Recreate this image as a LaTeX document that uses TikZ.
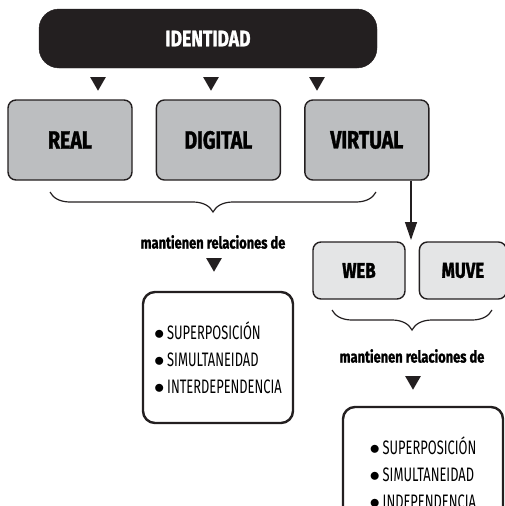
\documentclass[tikz,border=0pt]{standalone}
\usepackage{fontspec}
\setmainfont{Fira Sans}
\newfontfamily\headfont[FakeStretch=0.78,BoldFeatures={FakeBold=1.3}]{Fira Sans}
\newfontfamily\listfont[FakeStretch=0.66]{Fira Sans}
\usetikzlibrary{arrows.meta,positioning,shapes.geometric,decorations.pathreplacing}
\definecolor{ink}{RGB}{35,31,32}
\definecolor{boxgrey}{RGB}{188,190,192}
\definecolor{boxlight}{RGB}{228,229,230}
\newcommand{\itm}{\makebox[13pt][l]{$\bullet$}}

\begin{document}
\begin{tikzpicture}[x=1pt,y=-1pt, node distance=23pt and 23pt,
top/.style={fill=ink,draw=ink,rounded corners=20pt,minimum width=338pt,minimum height=59pt,text=white,font=\headfont\bfseries\fontsize{22.5}{24}\selectfont},
kind/.style={draw=ink,line width=1.4pt,fill=boxgrey,rounded corners=8pt,minimum width=124pt,minimum height=80pt,font=\headfont\bfseries\fontsize{25}{26}\selectfont},
sub/.style={draw=ink,line width=1.4pt,fill=boxlight,rounded corners=8pt,minimum width=92pt,minimum height=57pt,font=\headfont\bfseries\fontsize{21.5}{23}\selectfont},
rel/.style={font=\headfont\bfseries\fontsize{16.5}{18}\selectfont},
list/.style={draw=ink,line width=2.4pt,rounded corners=12pt,align=left,inner sep=0pt,minimum height=131pt,font=\listfont\fontsize{19.5}{27}\selectfont},
tri/.style={regular polygon,regular polygon sides=3,shape border rotate=180,fill=ink,inner sep=0pt,minimum size=18pt,anchor=north},
brc/.style={decorate,decoration={brace,mirror,amplitude=20pt},line width=1.2pt,draw=ink},
arr/.style={-{Triangle[width=12pt,length=18pt]},line width=1.3pt,draw=ink}]
\useasboundingbox (0,0) rectangle (505,506);
\clip (0,0) rectangle (505,506);
% top level
\node[top] (ident) at (208,38.5) {IDENTIDAD};
\node[tri] (t1) at (98,77) {};
\node[tri] (t2) at (211,77) {};
\node[tri] (t3) at (317,77) {};
\node[kind] (real) at (70,140) {REAL};
\node[kind,right=of real] (digital) {DIGITAL};
\node[kind,right=of digital] (virtual) {VIRTUAL};
% relations of the three
\coordinate (b1l) at (50,192); \coordinate (b1r) at (376,192);
\draw[brc] (b1l) -- (b1r);
\node[rel] (rel1) at (213,242) {mantienen relaciones de};
\node[tri] (t4) at (214,258) {};
\node[list,minimum width=150pt] (list1) at (218,357.5) {\itm SUPERPOSICIÓN\\\itm SIMULTANEIDAD\\\itm INTERDEPENDENCIA};
% virtual branch
\coordinate (gap) at (411,240);
\draw[arr] (virtual.south -| gap) -- (gap);
\node[sub] (web) at (359,270.5) {WEB};
\node[sub,right=13pt of web,minimum width=87pt] (muve) {MUVE};
\coordinate (b2l) at (332,310); \coordinate (b2r) at (492,310);
\draw[brc] (b2l) -- (b2r);
\node[rel] (rel2) at (412,356) {mantienen relaciones de};
\node[tri] (t5) at (413,376) {};
\node[list,minimum width=160pt] (list2) at (423,472.5) {\itm SUPERPOSICIÓN\\\itm SIMULTANEIDAD\\\itm INDEPENDENCIA};
\end{tikzpicture}
\end{document}
